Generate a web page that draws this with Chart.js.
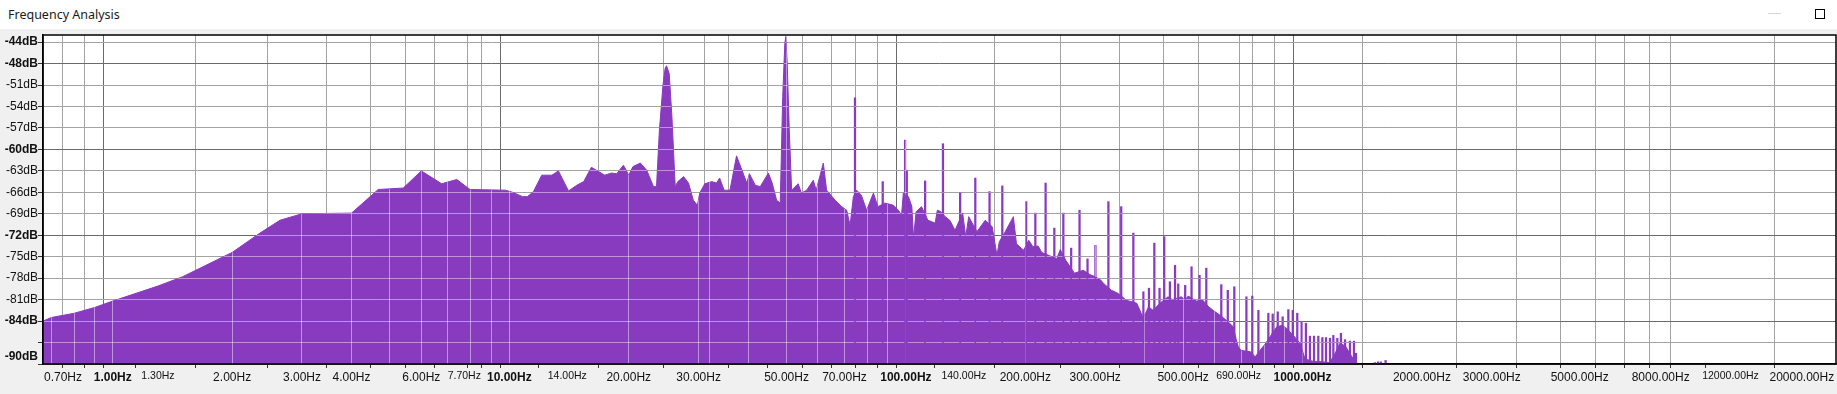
<!DOCTYPE html>
<html>
<head>
<meta charset="utf-8">
<title>Frequency Analysis</title>
<script src="https://cdn.jsdelivr.net/npm/chart.js@4.4.1/dist/chart.umd.min.js"></script>
<style>
  html, body { margin: 0; padding: 0; }
  body { width: 1837px; height: 394px; background: #f0f0f0; position: relative; overflow: hidden; }
  #titlebar { position: absolute; left: 0; top: 0; width: 1837px; height: 29px; background: #fff; }
  #title { position: absolute; left: 8px; top: 6px; font: 12.5px "Noto Sans", sans-serif; color: #1a1a1a; white-space: nowrap; }
  #minimize { position: absolute; left: 1768px; top: 13px; width: 13px; height: 1px; background: #d4d4d4; }
  #maximize { position: absolute; left: 1815px; top: 9px; width: 8px; height: 8px; border: 1.5px solid #000; }
  canvas { position: absolute; left: 0; top: 0; }
</style>
</head>
<body>
<div id="titlebar">
  <div id="title">Frequency Analysis</div>
  <div id="minimize"></div>
  <div id="maximize"></div>
</div>
<canvas id="spectrum" width="1837" height="394"></canvas>
<script>
// spectrum outline (Hz, dB)
const envFreq = [
    0.667, 0.7, 0.8, 0.9, 1.0, 1.3, 1.5, 2.0, 2.35, 2.64, 3.0, 4.0, 4.67, 5.4, 6.0, 6.75, 7.37, 7.96,
    9.78, 10.2, 10.8, 11.1, 11.5, 12.07, 12.8, 13.3, 14.1, 14.8, 15.4, 16.1, 16.8, 17.4, 18.1, 18.65,
    19.4, 20.0, 20.5, 21.4, 22.2, 23.1, 23.5, 23.9, 24.4, 24.7, 24.9, 25.3, 25.7, 26.2, 26.6, 27.5,
    28.3, 29.1, 29.8, 30.2, 31.1, 32.4, 33.3, 33.9, 34.8, 36.0, 37.4, 38.6, 39.7, 40.3, 41.7, 42.9,
    45.0, 46.0, 47.2, 48.2, 48.9, 49.5, 49.8, 50.2, 50.8, 51.5, 53.5, 54.5, 56.2, 58.4, 59.4, 61.9,
    63.1, 66.3, 68.9, 70.9, 72.3, 73.7, 75.1, 77.2, 79.6, 82.8, 85.0, 88.5, 93.0, 95.7, 97.5, 98.5,
    101.5, 103.5, 104.5, 106.1, 109.5, 113.6, 118.5, 120, 122.5, 125.6, 129, 133, 139, 141.5, 144,
    151, 158.5, 165, 169.6, 172, 178, 186.6, 190, 198, 204, 209, 215.5, 220, 229, 240, 245, 253,
    266, 280, 291, 300, 309, 316, 330, 342, 360, 382, 397, 409, 420, 437, 458, 470, 495, 505, 515,
    540, 561, 580, 595, 620, 640, 655, 669, 680, 689, 700, 740, 760, 781, 805, 828, 861, 886, 912,
    948, 986, 1015, 1060, 1120, 1166, 1196, 1243, 1283, 1343, 1368
];
const envDb = [
    -84.0, -83.5, -82.9, -82.1, -81.2, -79.1, -77.8, -74.4, -71.7, -69.9, -69.0, -68.9, -65.6, -65.4, -63.0, -64.8, -64.2, -65.6,
    -65.7, -66.0, -66.6, -66.6, -65.9, -63.6, -63.6, -63.0, -65.8, -65.0, -64.5, -62.5, -63.1, -63.6, -63.3, -63.4,
    -62.2, -63.6, -62.4, -61.9, -62.9, -65.2, -65.2, -57.3, -51.0, -48.7, -48.3, -49.4, -55.4, -65.2, -64.5, -63.8,
    -64.7, -67.1, -67.8, -66.1, -64.8, -64.5, -64.7, -64.0, -65.7, -65.7, -60.9, -62.9, -64.7, -63.4, -65.0, -65.2,
    -63.3, -64.7, -67.1, -67.5, -52.6, -45.2, -44.2, -48.0, -57.3, -65.7, -64.8, -66.1, -65.7, -64.3, -65.7, -61.9,
    -65.7, -67.1, -68.0, -68.5, -70.6, -66.6, -65.7, -66.4, -68.5, -66.1, -68.0, -67.5, -67.8, -68.5, -69.2, -66.1,
    -66.6, -68.0, -72.4, -68.7, -68.0, -69.9, -70.3, -68.5, -68.7, -69.4, -69.9, -71.3, -68.9, -72.2, -69.4,
    -71.5, -69.9, -70.8, -74.8, -72.9, -71.5, -69.4, -73.2, -74.1, -72.7, -73.6, -73.5, -74.4, -74.8, -75.3, -74.0, -75.5,
    -77.3, -76.9, -77.5, -77.8, -78.2, -78.8, -79.7, -80.1, -81.1, -81.5, -83.6, -82.0, -82.5, -81.5, -80.6, -81.0, -80.6, -81.1, -80.5,
    -81.2, -81.1, -82.0, -82.5, -83.2, -83.8, -84.3, -84.8, -86.5, -87.6, -88.1, -88.3, -89.0, -88.1, -87.2, -86.2, -84.8, -84.6, -85.0,
    -86.0, -87.1, -89.3, -89.6, -89.7, -89.8, -89.0, -87.1, -87.5, -89.3, -90.0
];

// narrow harmonic spikes (Hz, peak dB)
const spikeFreq = [
    74.4, 87.4, 99.5, 100.5, 111.8, 124, 137, 149.6, 162.5, 175, 201, 212, 225, 236.7, 249.4, 261,
    274, 287, 300.5, 324, 349, 374.5, 397, 410, 423, 436, 448, 463, 477, 486, 506, 525, 550, 572,
    624, 648, 673, 722, 747, 774, 820, 841, 866, 891, 921, 945, 970, 995, 1020, 1044, 1069, 1096,
    1122, 1146, 1173, 1196, 1224, 1250, 1280, 1317, 1348, 1364, 1523, 1550, 1575, 1620
];
const spikeDb = [
    -52.8, -64.5, -58.7, -62.9, -64.4, -59.2, -66.0, -64.0, -65.9, -65.1, -67.3, -68.9, -64.7, -71.0, -68.9, -73.8,
    -68.5, -75.3, -73.4, -67.3, -68.0, -71.7, -79.9, -79.4, -73.1, -79.4, -72.2, -78.5, -76.2, -78.8, -79.0, -76.4, -77.6, -76.6,
    -78.9, -79.7, -79.2, -80.6, -80.5, -82.5, -82.9, -83.0, -82.7, -83.4, -82.4, -82.5, -82.9, -84.1, -84.3, -86.1, -86.1, -86.1,
    -86.3, -86.3, -86.4, -86.0, -86.4, -85.7, -86.6, -86.8, -86.8, -88.5, -89.8, -89.7, -89.7, -89.5
];

// axis ticks
const xTickValues = [0.7, 0.8, 0.9, 1, 1.3, 2, 3, 4, 5, 6, 7, 7.7, 8, 9, 10, 14, 20, 30, 32, 40, 50, 60, 70, 80, 90,
    100, 140, 200, 300, 400, 500, 600, 690, 700, 800, 900, 1000, 2000, 3000, 4000, 5000, 6000, 7000, 8000, 9000, 12000, 20000];
const xTickLabels = ['0.70Hz', '', '', '1.00Hz', '1.30Hz', '2.00Hz', '3.00Hz', '4.00Hz', '', '6.00Hz', '', '7.70Hz', '', '',
    '10.00Hz', '14.00Hz', '20.00Hz', '30.00Hz', '', '', '50.00Hz', '', '70.00Hz', '', '', '100.00Hz', '140.00Hz',
    '200.00Hz', '300.00Hz', '', '500.00Hz', '', '690.00Hz', '', '', '', '1000.00Hz', '2000.00Hz', '3000.00Hz', '',
    '5000.00Hz', '', '', '8000.00Hz', '', '12000.00Hz', '20000.00Hz'];
const yTickValues = [-90, -87, -84, -81, -78, -75, -72, -69, -66, -63, -60, -57, -54, -51, -48, -45];
const yTickLabels = ['-90dB', '', '-84dB', '-81dB', '-78dB', '-75dB', '-72dB', '-69dB', '-66dB', '-63dB', '-60dB',
    '-57dB', '-54dB', '-51dB', '-48dB', '-44dB'];

// styling
const purple = '#893bbf';
const minorGrid = '#a3a3a3';
const majorGrid = '#6b6b6b';
const clear = 'rgba(0,0,0,0)';
const axisFont = '"Liberation Sans", Arial, sans-serif';
const noGridX = [1.3, 7.7, 14, 140, 690, 12000];
const noMarkX = [7.7, 32, 690];
const smallX = [1.3, 7.7, 14, 140, 690, 12000];
const majorX = [1, 10, 100, 1000];
const boldY = [-90, -84, -72, -60, -48, -45];
const majorY = [-84, -72, -60, -48];

function tickValue(c) { return c && c.tick ? c.tick.value : null; }
function xHasGrid(v) { return !noGridX.includes(v); }
function xLineColor(v) { return majorX.includes(v) ? majorGrid : minorGrid; }
function yLineColor(v) { return majorY.includes(v) ? majorGrid : minorGrid; }

function alignPixel(p) { return Math.round(p - 0.5) + 0.5; }

// white plot area, frame around it
const framePlugin = {
    id: 'frame',
    beforeDraw(chart) {
        const { ctx, chartArea: a } = chart;
        ctx.save();
        ctx.fillStyle = '#fff';
        ctx.fillRect(a.left, a.top, a.right - a.left, a.bottom - a.top);
        ctx.restore();
    },
    afterDraw(chart) {
        const { ctx, chartArea: a } = chart;
        ctx.save();
        ctx.strokeStyle = '#000';
        ctx.lineWidth = 1.5;
        ctx.strokeRect(a.left, a.top, a.right - a.left, a.bottom - a.top);
        ctx.restore();
    }
};

// grid lines show light where they cross the filled spectrum
const gridOverFill = {
    id: 'gridOverFill',
    afterDatasetsDraw(chart) {
        const { ctx, chartArea: a, scales: { x, y } } = chart;
        const pts = chart.getDatasetMeta(0).data;
        const bars = chart.getDatasetMeta(1).data;
        if (!pts.length) return;
        ctx.save();
        ctx.beginPath();
        ctx.moveTo(pts[0].x, a.bottom);
        pts.forEach(p => ctx.lineTo(p.x, p.y));
        ctx.lineTo(pts[pts.length - 1].x, a.bottom);
        ctx.closePath();
        bars.forEach(b => ctx.rect(b.x - b.width / 2, b.y, b.width, b.base - b.y));
        ctx.clip();

        ctx.strokeStyle = 'rgba(255,255,255,0.45)';
        ctx.lineWidth = 1;
        ctx.beginPath();
        x.ticks.forEach(t => {
            if (!xHasGrid(t.value)) return;
            const px = alignPixel(x.getPixelForValue(t.value));
            ctx.moveTo(px, a.top);
            ctx.lineTo(px, a.bottom);
        });
        y.ticks.forEach(t => {
            const py = alignPixel(y.getPixelForValue(t.value));
            ctx.moveTo(a.left, py);
            ctx.lineTo(a.right, py);
        });
        ctx.stroke();
        ctx.restore();
    }
};

const nb = '\u00a0';

new Chart(document.getElementById('spectrum'), {
    type: 'line',
    data: {
        datasets: [
            {
                type: 'line',
                data: envFreq.map((f, i) => ({ x: f, y: envDb[i] })),
                borderColor: purple,
                borderWidth: 1,
                backgroundColor: purple,
                fill: 'start',
                pointRadius: 0,
                tension: 0
            },
            {
                type: 'bar',
                data: spikeFreq.map((f, i) => ({ x: f, y: [-90, spikeDb[i]] })),
                backgroundColor: purple,
                borderWidth: 0,
                barThickness: 1.6
            }
        ]
    },
    options: {
        responsive: false,
        animation: false,
        devicePixelRatio: 1,
        layout: { padding: { top: 35, right: 1, left: 0, bottom: 0 } },
        plugins: {
            legend: { display: false },
            tooltip: { enabled: false }
        },
        scales: {
            x: {
                type: 'logarithmic',
                min: 0.667,
                max: 22140,
                afterBuildTicks: s => { s.ticks = xTickValues.map(v => ({ value: v })); },
                afterFit: s => { s.height = 30; s.paddingLeft = 0; s.paddingRight = 0; },
                grid: {
                    color: c => {
                        const v = tickValue(c);
                        return v === null || !xHasGrid(v) ? clear : xLineColor(v);
                    },
                    tickColor: c => {
                        const v = tickValue(c);
                        return v === null || noMarkX.includes(v) ? clear : '#333';
                    },
                    tickLength: 4,
                    lineWidth: 1,
                    tickWidth: 1
                },
                border: { color: '#000', width: 1.5 },
                ticks: {
                    autoSkip: false,
                    maxRotation: 0,
                    minRotation: 0,
                    padding: 2,
                    color: '#111',
                    font: c => {
                        const v = tickValue(c);
                        if (smallX.includes(v)) return { family: axisFont, size: 10.5 };
                        if (majorX.includes(v)) return { family: axisFont, size: 12, weight: 'bold' };
                        return { family: axisFont, size: 12 };
                    },
                    callback: (v, i) => {
                        const label = xTickLabels[i];
                        // end labels are kept inside the plot width
                        if (i === 0) return nb.repeat(7) + label;
                        if (i === xTickLabels.length - 1) return label + nb.repeat(10);
                        return label;
                    }
                }
            },
            y: {
                type: 'linear',
                min: -90,
                max: -44,
                afterBuildTicks: s => { s.ticks = yTickValues.map(v => ({ value: v })); },
                afterFit: s => { s.width = 43; s.paddingTop = 0; s.paddingBottom = 0; },
                grid: {
                    color: c => {
                        const v = tickValue(c);
                        return v === null ? clear : yLineColor(v);
                    },
                    tickColor: '#333',
                    tickLength: 5,
                    lineWidth: 1
                },
                border: { color: '#000', width: 1.5 },
                ticks: {
                    autoSkip: false,
                    padding: 0,
                    color: '#111',
                    font: c => ({
                        family: axisFont,
                        size: 12,
                        weight: boldY.includes(tickValue(c)) ? 'bold' : 'normal'
                    }),
                    callback: (v, i) => i === 0 ? [yTickLabels[i], ''] : yTickLabels[i]
                }
            }
        }
    },
    plugins: [framePlugin, gridOverFill]
});
</script>
</body>
</html>
